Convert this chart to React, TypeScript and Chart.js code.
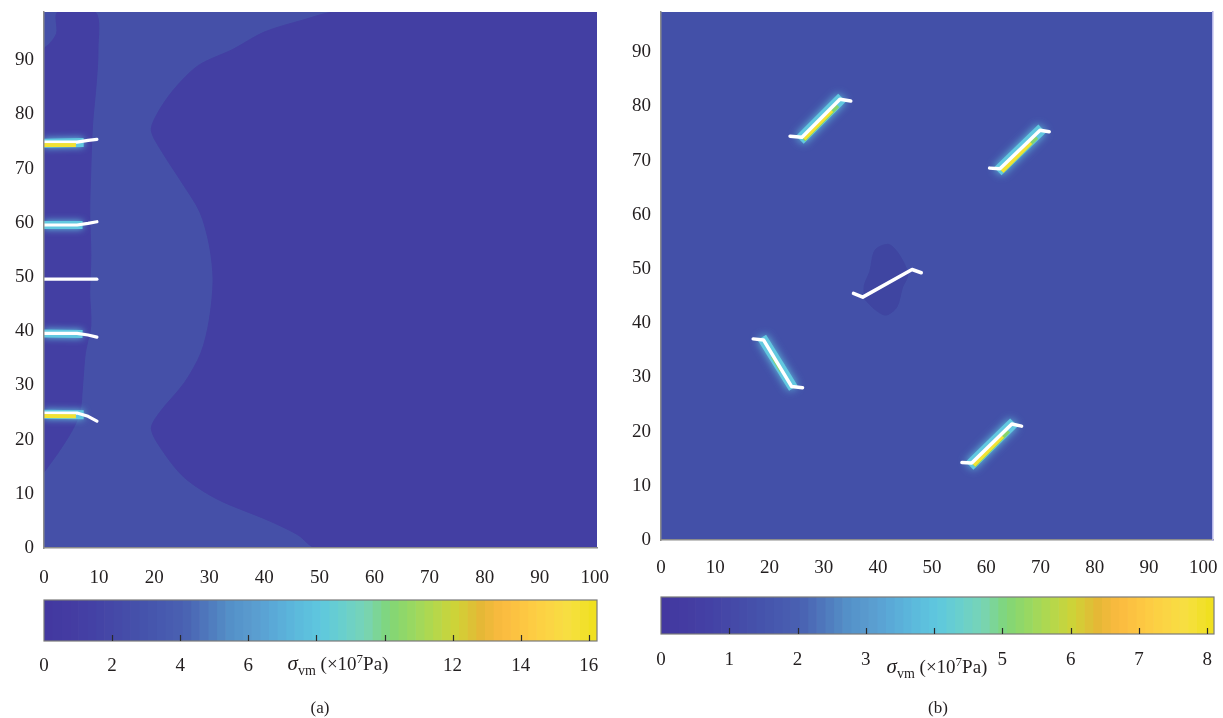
import React, { useEffect, useRef } from 'react';
import { Chart, registerables } from 'chart.js';

Chart.register(...registerables);

const FONT = '"Liberation Serif", "DejaVu Serif", serif';

// ---------- axes ----------
const AXIS_TICKS_X = [0, 10, 20, 30, 40, 50, 60, 70, 80, 90, 100];
const AXIS_TICKS_Y = [0, 10, 20, 30, 40, 50, 60, 70, 80, 90];
const A_X_MAX = 100.4;
const A_Y_MAX = 98.9;
const B_X_MAX = 101.8;
const B_Y_MAX = 97.4;

// ---------- colour bars ----------
const CB_A_TICKS = [0, 2, 4, 6, 8, 10, 12, 14, 16];
const CB_A_HIDDEN = [8, 10];
const CB_A_MAX = 16.24;
const CB_B_TICKS = [0, 1, 2, 3, 4, 5, 6, 7, 8];
const CB_B_HIDDEN = [4];
const CB_B_MAX = 8.1;
const PALETTE = [
  '#4338a0', '#443ca2', '#4442a5', '#454aa8', '#4552ab', '#4759af', '#4a62b2', '#4f78bc',
  '#5490c8', '#5a9ccf', '#5aaad8', '#5cbadc', '#5ec8de', '#6acfcc', '#78d4b4', '#80d678',
  '#98d862', '#b4d84c', '#d0d236', '#e4b836', '#fbba40', '#fdc842', '#fcd444', '#f6e040', '#f0e020',
];

// ---------- colours of the stress field ----------
const FIELD_LIGHT = '#4550a8';
const FIELD_DARK = '#433fa3';
const FIELD_B = '#4350a8';
const FIELD_B_DARK = '#3f45a1';
const GLOW_CYAN = '#62c8e0';
const GLOW_GREEN = '#86d46c';
const GLOW_YELLOW = '#f2e234';
const CRACK = '#ffffff';

type P = [number, number];

// ---------- panel (a): contour regions ----------
const A_LEFT_STRIP: P[] = [
  [0, 14], [2.5, 17.5], [5, 21.5], [6.5, 25], [7, 30], [7.5, 36], [8.5, 41], [8.3, 47],
  [8.5, 54], [8.3, 62], [8.5, 70], [8.8, 78], [9.5, 86], [9.8, 92], [9.3, 98.9],
  [2.5, 98.9], [2.3, 95], [1, 93], [0, 92],
];
const A_RIGHT_ZONE: P[] = [
  [100.4, 98.9], [53, 98.9], [47, 97.4], [40, 95.2], [34.3, 92], [28, 89], [23.5, 84.5],
  [20.5, 80], [19.5, 77], [21.5, 73], [25, 67.5], [28.3, 62], [30, 56], [30.7, 49.5],
  [30, 42], [28.5, 36], [25.5, 30.5], [21, 25], [19.5, 22], [21.5, 18], [25.5, 13],
  [31.5, 9], [40.5, 5.2], [46, 2.5], [49.5, 0], [100.4, 0],
];

// ---------- panel (a): cracks ----------
const A_CRACK_75: P[] = [[0, 74.9], [6, 74.9], [8, 75.2], [9.6, 75.4]];
const A_CRACK_60: P[] = [[0, 59.6], [6, 59.6], [8, 59.9], [9.6, 60.2]];
const A_CRACK_50: P[] = [[0, 49.6], [9.6, 49.6]];
const A_CRACK_40: P[] = [[0, 39.6], [6, 39.6], [8, 39.3], [9.6, 38.9]];
const A_CRACK_25: P[] = [[0, 24.9], [6, 24.9], [8, 24.3], [9.6, 23.4]];
const A_GLOW_75: P[] = [[0, 74.7], [7.2, 74.8]];
const A_GLOW_60: P[] = [[0, 59.6], [7, 59.6]];
const A_GLOW_40: P[] = [[0, 39.6], [7, 39.5]];
const A_GLOW_25: P[] = [[0, 24.7], [7.2, 24.6]];
const A_CORE_75: P[] = [[0, 74.35], [5.8, 74.35]];
const A_CORE_25: P[] = [[0, 24.35], [5.8, 24.3]];

// ---------- panel (b): regions ----------
const B_DARK_SPOT: P[] = [
  [37.5, 44.5], [39.5, 42.5], [41.5, 41.5], [43.5, 43], [44.5, 46.5], [45.5, 49],
  [44, 52.5], [42, 54.5], [39.5, 53.5], [38.5, 49.5], [37.5, 47],
];

// ---------- panel (b): cracks ----------
const B_CRACK_A: P[] = [[23.8, 74.5], [26.0, 74.3], [33.0, 81.3], [35.0, 81.0]];
const B_CRACK_B: P[] = [[60.6, 68.6], [62.5, 68.5], [69.9, 75.6], [71.6, 75.3]];
const B_CRACK_C: P[] = [[55.5, 14.3], [57.3, 14.2], [64.7, 21.4], [66.5, 21.0]];
const B_CRACK_D: P[] = [[35.5, 45.5], [37.2, 44.8], [46.3, 49.9], [48.0, 49.3]];
const B_CRACK_E: P[] = [[17.0, 37.1], [18.9, 36.9], [24.1, 28.3], [26.1, 28.1]];
const B_GLOW_A: P[] = [[25.6, 73.8], [33.4, 81.6]];
const B_GLOW_B: P[] = [[62.1, 68.0], [70.3, 75.9]];
const B_GLOW_C: P[] = [[56.9, 13.7], [65.1, 21.7]];
const B_GLOW_E: P[] = [[18.6, 37.4], [24.4, 28.0]];
const B_GREEN_A: P[] = [[26.2, 73.9], [32.5, 80.2]];
const B_GREEN_B: P[] = [[62.8, 68.1], [69.2, 74.4]];
const B_GREEN_C: P[] = [[57.6, 13.8], [64.0, 20.2]];
const B_GREEN_E: P[] = [[20.6, 33.9], [22.2, 31.2]];
const B_YELLOW_A: P[] = [[26.4, 74.0], [31.5, 79.2]];
const B_YELLOW_B: P[] = [[62.9, 68.0], [68.2, 73.3]];
const B_YELLOW_C: P[] = [[57.7, 13.8], [63.0, 19.1]];

// ---------- helpers ----------
const pts = (a: P[]) => a.map(([x, y]) => ({ x, y }));

const region = (a: P[], color: string, order: number) => ({
  type: 'line',
  data: pts([...a, a[0]]),
  borderWidth: 1,
  borderColor: color,
  backgroundColor: color,
  fill: 'shape',
  pointRadius: 0,
  tension: 0.3,
  order,
});

const stroke = (
  a: P[], color: string, width: number, order: number, glow?: string, blur = 0, cap = 'round',
) => ({
  type: 'line',
  data: pts(a),
  borderColor: color,
  backgroundColor: color,
  borderWidth: width,
  fill: false,
  pointRadius: 0,
  tension: 0,
  borderCapStyle: cap,
  borderJoinStyle: 'round',
  order,
  glow,
  glowBlur: blur,
});

const hexToRgb = (h: string) => [1, 3, 5].map((i) => parseInt(h.slice(i, i + 2), 16));
const paletteAt = (t: number) => {
  const n = PALETTE.length - 1;
  const f = Math.max(0, Math.min(1, t)) * n;
  const i = Math.min(Math.floor(f), n - 1);
  const r = f - i;
  const a = hexToRgb(PALETTE[i]);
  const b = hexToRgb(PALETTE[i + 1]);
  const c = a.map((v, k) => Math.round(v + (b[k] - v) * r));
  return `rgb(${c[0]},${c[1]},${c[2]})`;
};

const bgPlugin = {
  id: 'bgfill',
  beforeDatasetsDraw(chart: any, _a: any, opts: any) {
    if (!opts || !opts.color) return;
    const { ctx, chartArea: c } = chart;
    ctx.save();
    ctx.fillStyle = opts.color;
    ctx.fillRect(c.left, c.top, c.right - c.left, c.bottom - c.top);
    ctx.restore();
  },
};

const glowPlugin = {
  id: 'glow',
  beforeDatasetDraw(chart: any, args: any) {
    const ds = chart.data.datasets[args.index];
    if (ds && ds.glow) {
      chart.ctx.save();
      chart.ctx.shadowColor = ds.glow;
      chart.ctx.shadowBlur = ds.glowBlur || 6;
    }
  },
  afterDatasetDraw(chart: any, args: any) {
    const ds = chart.data.datasets[args.index];
    if (ds && ds.glow) chart.ctx.restore();
  },
};

// frame round the colour bar, with short inward tick marks on its lower edge
const framePlugin = {
  id: 'frame',
  afterDatasetsDraw(chart: any, _a: any, opts: any) {
    if (!opts || !opts.color) return;
    const { ctx, chartArea: c } = chart;
    ctx.save();
    ctx.strokeStyle = opts.color;
    ctx.lineWidth = 1.2;
    ctx.strokeRect(c.left, c.top, c.right - c.left, c.bottom - c.top);
    const sx = chart.scales.x;
    ctx.strokeStyle = '#2a2a2a';
    ctx.lineWidth = 1.2;
    sx.ticks.forEach((t: any) => {
      const px = Math.round(sx.getPixelForValue(t.value)) + 0.5;
      if (px <= c.left + 1) return;
      ctx.beginPath();
      ctx.moveTo(px, c.bottom);
      ctx.lineTo(px, c.bottom - 6);
      ctx.stroke();
    });
    ctx.restore();
  },
};

const tickFont = { family: FONT, size: 19 };

const fixX = (h: number) => (s: any) => { s.height = h; s.paddingLeft = 0; s.paddingRight = 0; };
const fixY = (w: number) => (s: any) => { s.width = w; s.paddingTop = 0; s.paddingBottom = 0; };

function mainOptions(
  xMax: number, yMax: number, yAxisWidth: number, xAxisHeight: number,
  padRight: number, tickPadX: number, bg: string, rightBorder: boolean,
) {
  const scales: any = {
    x: {
      type: 'linear', min: 0, max: xMax,
      grid: { display: false, drawTicks: false },
      border: { display: true, color: '#8c8c8c', width: 1.5, z: 1 },
      ticks: { font: tickFont, color: '#231f20', padding: tickPadX, maxRotation: 0, autoSkip: false },
      afterBuildTicks: (s: any) => { s.ticks = AXIS_TICKS_X.map((v) => ({ value: v })); },
      afterFit: fixX(xAxisHeight),
    },
    y: {
      type: 'linear', min: 0, max: yMax,
      grid: { display: false, drawTicks: false },
      border: { display: true, color: '#8c8c8c', width: 1.5, z: 1 },
      ticks: { font: tickFont, color: '#231f20', padding: 10, autoSkip: false },
      afterBuildTicks: (s: any) => { s.ticks = AXIS_TICKS_Y.map((v) => ({ value: v })); },
      afterFit: fixY(yAxisWidth),
    },
  };
  if (rightBorder) {
    scales.yR = {
      type: 'linear', position: 'right', min: 0, max: yMax,
      grid: { display: false, drawTicks: false },
      border: { display: true, color: '#b4b4e8', width: 1.5, z: 1 },
      ticks: { display: false },
      afterFit: fixY(0),
    };
  }
  return {
    animation: false, responsive: false, maintainAspectRatio: false, events: [],
    layout: { padding: { top: 12, right: padRight, left: 0, bottom: 0 } },
    plugins: { legend: { display: false }, tooltip: { enabled: false }, bgfill: { color: bg }, frame: {} },
    scales,
  };
}

function colorbarConfig(
  max: number, ticks: number[], hidden: number[], padLeft: number, padRight: number,
  axisHeight: number, labelPad: number,
) {
  const N = 64;
  const datasets: any[] = [];
  for (let i = 0; i < N; i++) {
    datasets.push({
      data: [[(i * max) / N, ((i + 1) * max) / N]],
      backgroundColor: paletteAt(i / (N - 1)),
      borderWidth: 0,
      barPercentage: 1,
      categoryPercentage: 1,
      grouped: false,
    });
  }
  return {
    type: 'bar',
    data: { labels: ['σ'], datasets },
    options: {
      indexAxis: 'y', animation: false, responsive: false, maintainAspectRatio: false, events: [],
      layout: { padding: { top: 10, left: padLeft, right: padRight, bottom: 0 } },
      plugins: { legend: { display: false }, tooltip: { enabled: false }, frame: { color: '#7a7a7a' } },
      scales: {
        y: { display: false },
        x: {
          type: 'linear', min: 0, max,
          grid: { display: false, drawTicks: false },
          border: { display: false },
          ticks: {
            font: tickFont, color: '#231f20', padding: labelPad, maxRotation: 0, autoSkip: false,
            callback: (v: any) => (hidden.includes(Number(v)) ? '' : String(v)),
          },
          afterBuildTicks: (s: any) => { s.ticks = ticks.map((v) => ({ value: v })); },
          afterFit: fixX(axisHeight),
        },
      },
    },
  };
}

export default function App() {
  const refA = useRef<HTMLCanvasElement>(null);
  const refB = useRef<HTMLCanvasElement>(null);
  const refCA = useRef<HTMLCanvasElement>(null);
  const refCB = useRef<HTMLCanvasElement>(null);

  useEffect(() => {
    const charts: Chart[] = [];

    const dsA: any[] = [
      region(A_RIGHT_ZONE, FIELD_DARK, 50),
      region(A_LEFT_STRIP, FIELD_DARK, 49),
      stroke(A_GLOW_75, GLOW_CYAN, 9, 20, GLOW_CYAN, 7, 'butt'),
      stroke(A_GLOW_60, GLOW_CYAN, 8, 20, GLOW_CYAN, 7, 'butt'),
      stroke(A_GLOW_40, GLOW_CYAN, 8, 20, GLOW_CYAN, 7, 'butt'),
      stroke(A_GLOW_25, GLOW_CYAN, 9, 20, GLOW_CYAN, 7, 'butt'),
      stroke(A_CRACK_75, CRACK, 3.2, 10),
      stroke(A_CRACK_60, CRACK, 3.2, 10),
      stroke(A_CRACK_50, CRACK, 3.2, 10),
      stroke(A_CRACK_40, CRACK, 3.2, 10),
      stroke(A_CRACK_25, CRACK, 3.2, 10),
      stroke(A_CORE_75, GLOW_YELLOW, 4, 5, undefined, 0, 'butt'),
      stroke(A_CORE_25, GLOW_YELLOW, 4, 5, undefined, 0, 'butt'),
    ];
    charts.push(new Chart(refA.current as HTMLCanvasElement, {
      type: 'line',
      data: { datasets: dsA },
      options: mainOptions(A_X_MAX, A_Y_MAX, 44, 47, 23, 19, FIELD_LIGHT, false) as any,
      plugins: [bgPlugin, glowPlugin, framePlugin],
    } as any));

    const dsB: any[] = [
      region(B_DARK_SPOT, FIELD_B_DARK, 50),
      stroke(B_GLOW_A, GLOW_CYAN, 11, 20, GLOW_CYAN, 9, 'butt'),
      stroke(B_GLOW_B, GLOW_CYAN, 11, 20, GLOW_CYAN, 9, 'butt'),
      stroke(B_GLOW_C, GLOW_CYAN, 11, 20, GLOW_CYAN, 9, 'butt'),
      stroke(B_GLOW_E, GLOW_CYAN, 10, 20, GLOW_CYAN, 9, 'butt'),
      stroke(B_GREEN_A, GLOW_GREEN, 6, 15, undefined, 0, 'butt'),
      stroke(B_GREEN_B, GLOW_GREEN, 6, 15, undefined, 0, 'butt'),
      stroke(B_GREEN_C, GLOW_GREEN, 6, 15, undefined, 0, 'butt'),
      stroke(B_GREEN_E, GLOW_GREEN, 4, 15, undefined, 0, 'butt'),
      stroke(B_YELLOW_A, GLOW_YELLOW, 4, 14, undefined, 0, 'butt'),
      stroke(B_YELLOW_B, GLOW_YELLOW, 4, 14, undefined, 0, 'butt'),
      stroke(B_YELLOW_C, GLOW_YELLOW, 4, 14, undefined, 0, 'butt'),
      stroke(B_CRACK_A, CRACK, 3.5, 10),
      stroke(B_CRACK_B, CRACK, 3.5, 10),
      stroke(B_CRACK_C, CRACK, 3.5, 10),
      stroke(B_CRACK_D, CRACK, 3.5, 10),
      stroke(B_CRACK_E, CRACK, 3.5, 10),
    ];
    charts.push(new Chart(refB.current as HTMLCanvasElement, {
      type: 'line',
      data: { datasets: dsB },
      options: mainOptions(B_X_MAX, B_Y_MAX, 41, 55, 10, 17, FIELD_B, true) as any,
      plugins: [bgPlugin, glowPlugin, framePlugin],
    } as any));

    const cbA: any = colorbarConfig(CB_A_MAX, CB_A_TICKS, CB_A_HIDDEN, 44, 23, 44, 14);
    cbA.plugins = [framePlugin];
    charts.push(new Chart(refCA.current as HTMLCanvasElement, cbA));

    const cbB: any = colorbarConfig(CB_B_MAX, CB_B_TICKS, CB_B_HIDDEN, 41, 9, 48, 15);
    cbB.plugins = [framePlugin];
    charts.push(new Chart(refCB.current as HTMLCanvasElement, cbB));

    return () => { charts.forEach((c) => c.destroy()); };
  }, []);

  const abs = (l: number, t: number, w: number, h: number): React.CSSProperties => ({
    position: 'absolute', left: l, top: t, width: w, height: h,
  });
  const labelStyle = (cx: number, top: number): React.CSSProperties => ({
    position: 'absolute', left: cx, top, transform: 'translateX(-50%)', whiteSpace: 'nowrap',
    fontFamily: FONT, fontSize: 19, lineHeight: '20px', color: '#231f20',
  });
  const sigma = (
    <>
      <span style={{ fontStyle: 'italic', fontSize: 21 }}>σ</span>
      <span style={{ fontSize: 14, position: 'relative', top: 5 }}>vm</span>
      <span> (×10</span>
      <span style={{ fontSize: 13, position: 'relative', top: -7 }}>7</span>
      <span>Pa)</span>
    </>
  );

  return (
    <div style={{ position: 'absolute', left: 0, top: 0, width: 1223, height: 718, background: '#ffffff', overflow: 'hidden' }}>
      <canvas ref={refA} width={620} height={595} style={abs(0, 0, 620, 595)} />
      <canvas ref={refB} width={603} height={595} style={abs(620, 0, 603, 595)} />
      <canvas ref={refCA} width={620} height={95} style={abs(0, 590, 620, 95)} />
      <canvas ref={refCB} width={603} height={95} style={abs(620, 587, 603, 95)} />
      <div style={labelStyle(338, 653)}>{sigma}</div>
      <div style={labelStyle(937, 656)}>{sigma}</div>
      <div style={{ ...labelStyle(320, 698), fontSize: 17 }}>(a)</div>
      <div style={{ ...labelStyle(938, 698), fontSize: 17 }}>(b)</div>
    </div>
  );
}
